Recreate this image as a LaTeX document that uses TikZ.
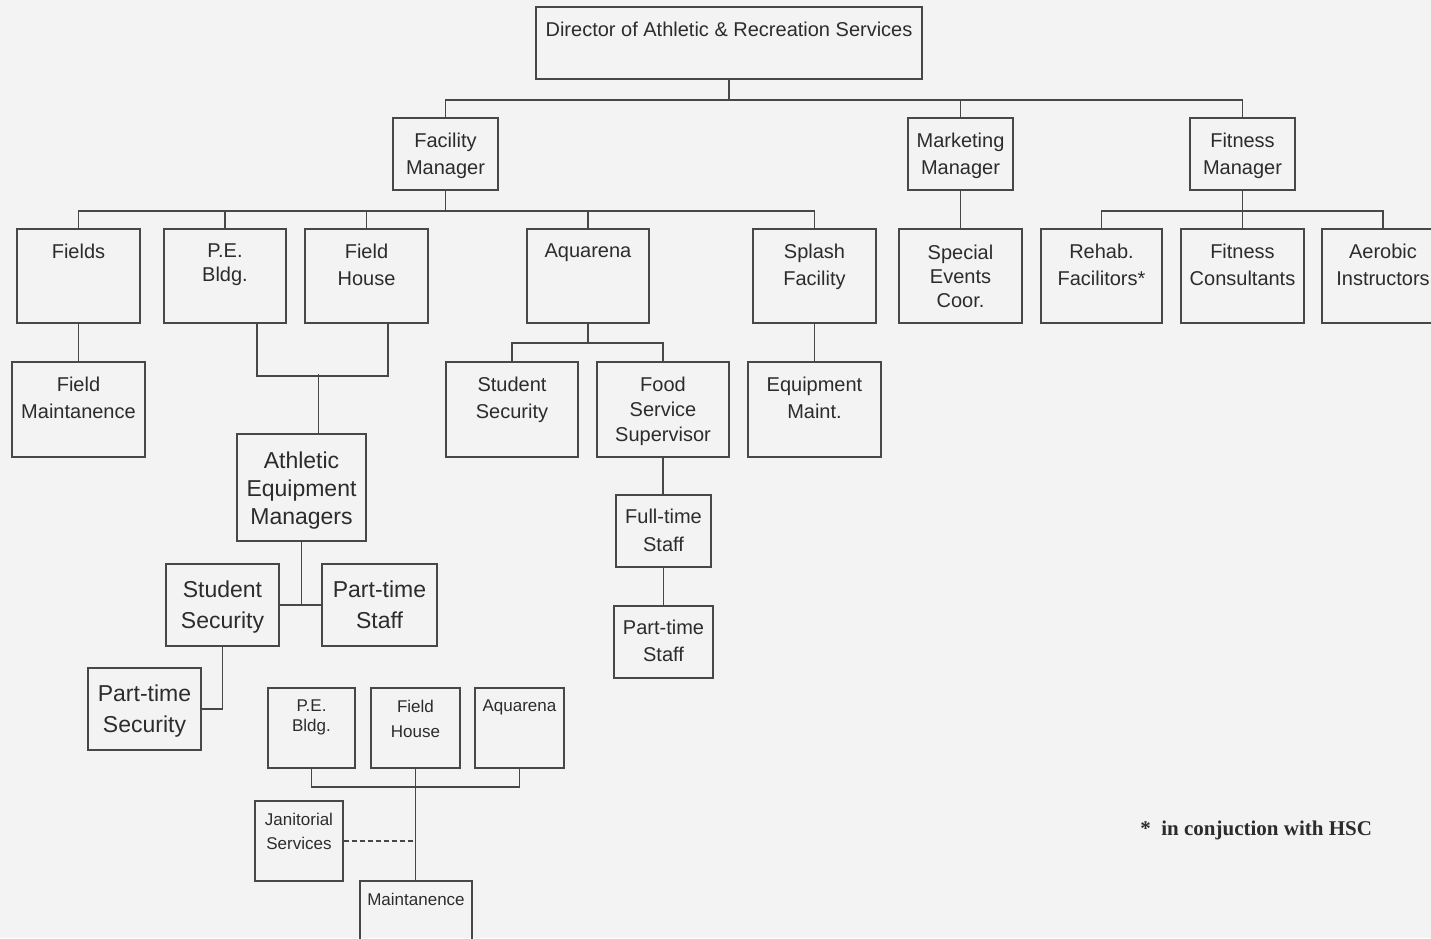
\documentclass[tikz,border=0pt]{standalone}
\usepackage{fontspec}
\setmainfont{Liberation Sans}
\newfontfamily\noteserif{Liberation Serif}
\definecolor{ink}{HTML}{2C2C2C}
\definecolor{lineink}{HTML}{474747}
\definecolor{bgpaper}{HTML}{F3F3F3}
\tikzset{
  boxst/.style={draw=lineink, line width=0.75pt, rectangle, inner sep=0pt},
  txtst/.style={text=ink, align=center, inner sep=0pt},
  conn/.style={draw=lineink, line width=0.75pt},
  dashconn/.style={conn, dash pattern=on 2.5pt off 1.5pt}
}
% #1 name, #2 x1, #3 y1, #4 x2, #5 y2, #6 font px, #7 first-line centre y, #8 baselineskip px, #9 text
\newcommand\obox[9]{%
  \pgfmathsetmacro\obw{(#4-#2)*0.5}%
  \pgfmathsetmacro\obh{(#5-#3)*0.5}%
  \pgfmathsetmacro\obcx{(#2+#4)/2}%
  \pgfmathsetmacro\obcy{(#3+#5)/2}%
  \pgfmathsetmacro\obty{#7-0.36*#6}%
  \pgfmathsetmacro\obfs{#6/2}%
  \pgfmathsetmacro\obbs{#8/2}%
  \node[boxst, minimum width=\obw pt, minimum height=\obh pt] (#1) at (\obcx,\obcy) {};
  \node[txtst, anchor=north, font={\fontsize{\obfs pt}{\obbs pt}\selectfont}] (#1-t) at (\obcx,\obty) {#9};
}
\begin{document}
\begin{tikzpicture}[x=0.5pt,y=-0.5pt]
\fill[bgpaper] (0,0) rectangle (1431,938);
\useasboundingbox (0,0) rectangle (1431,938);

\obox{dir}{536}{7}{922}{79}{20}{29}{27}{Director of Athletic \& Recreation Services}
\obox{fac}{393}{118}{498}{190}{20}{140}{27}{Facility\\Manager}
\obox{mkt}{908}{118}{1013}{190}{20}{140}{27}{Marketing\\Manager}
\obox{fit}{1190}{118}{1295}{190}{20}{140}{27}{Fitness\\Manager}
\obox{fields}{17}{229}{140}{323}{20}{251}{27}{Fields}
\obox{pe}{164}{229}{286}{323}{20}{251}{24}{P.E.\\Bldg.}
\obox{fh}{305}{229}{428}{323}{20}{251}{27}{Field\\House}
\obox{aq}{527}{229}{649}{323}{20}{251}{27}{Aquarena}
\obox{spl}{753}{229}{876}{323}{20}{251}{27}{Splash\\Facility}
\obox{sec}{899}{229}{1022}{323}{20}{252}{24}{Special\\Events\\Coor.}
\obox{reh}{1041}{229}{1162}{323}{20}{251}{27}{Rehab.\\Facilitors*}
\obox{fcons}{1181}{229}{1304}{323}{20}{251}{27}{Fitness\\Consultants}
\obox{aer}{1322}{229}{1444}{323}{20}{251}{27}{Aerobic\\Instructors}
\obox{fmaint}{12}{362}{145}{457}{20}{384}{27}{Field\\Maintanence}
\obox{ss2}{446}{362}{578}{457}{20}{384}{27}{Student\\Security}
\obox{fss}{597}{362}{729}{457}{20}{384}{25}{Food\\Service\\Supervisor}
\obox{emaint}{748}{362}{881}{457}{20}{384}{27}{Equipment\\Maint.}
\obox{aem}{237}{434}{366}{541}{23}{460}{28}{Athletic\\Equipment\\Managers}
\obox{ss1}{166}{564}{279}{646}{23}{589}{31}{Student\\Security}
\obox{pts1}{322}{564}{437}{646}{23}{589}{31}{Part-time\\Staff}
\obox{psec}{88}{668}{201}{750}{23}{693}{31}{Part-time\\Security}
\obox{fts}{616}{495}{711}{567}{20}{516}{28}{Full-time\\Staff}
\obox{pts2}{614}{606}{713}{678}{20}{627}{27}{Part-time\\Staff}
\obox{bpe}{268}{688}{355}{768}{17}{706}{20}{P.E.\\Bldg.}
\obox{bfh}{371}{688}{460}{768}{17}{706}{25}{Field\\House}
\obox{baq}{475}{688}{564}{768}{17}{706}{20}{Aquarena}
\obox{jan}{255}{801}{343}{881}{17}{819}{24}{Janitorial\\Services}
\obox{mnt}{360}{881}{472}{960}{17}{899}{20}{Maintanence}

% top level
\foreach \c in {fac,mkt,fit} \draw[conn] (dir.south) -- ++(0,20) -| (\c.north);
% facility manager
\foreach \c in {fields,pe,fh,aq,spl} \draw[conn] (fac.south) -- ++(0,20) -| (\c.north);
% marketing
\draw[conn] (mkt.south) -- (mkt.south |- sec.north);
% fitness
\foreach \c in {reh,fcons,aer} \draw[conn] (fit.south) -- ++(0,20) -| (\c.north);
% fields
\draw[conn] (fields.south) -- (fields.south |- fmaint.north);
% PE + Field House -> athletic equipment managers
\draw[conn] ([xshift=16pt]pe.south) -- ++(0,52) -| ([xshift=10.75pt]fh.south);
\draw[conn] ([xshift=8.5pt]aem.north) -- ++(0,-59);
\draw[conn] (aem.south) -- (aem.south |- ss1.east);
\draw[conn] (ss1.east) -- (pts1.west);
\draw[conn] (ss1.south) |- (psec.east);
% aquarena
\foreach \c in {ss2,fss} \draw[conn] (aq.south) -- ++(0,19) -| (\c.north);
\draw[conn] (fss.south) -- (fss.south |- fts.north);
\draw[conn] (fts.south) -- (fts.south |- pts2.north);
% splash
\draw[conn] (spl.south) -- (spl.south |- emaint.north);
% bottom group
\draw[conn] (bpe.south) -- ++(0,18) -| (baq.south);
\draw[conn] (bfh.south) -- (bfh.south |- mnt.north);
\draw[dashconn] (jan.east) -- (jan.east -| bfh.south);

\node[anchor=west, text=ink, inner sep=0pt, font={\noteserif\bfseries\fontsize{10.5pt}{12pt}\selectfont}] (note) at (1140,830) {*\ \ in conjuction with HSC};
\end{tikzpicture}
\end{document}
